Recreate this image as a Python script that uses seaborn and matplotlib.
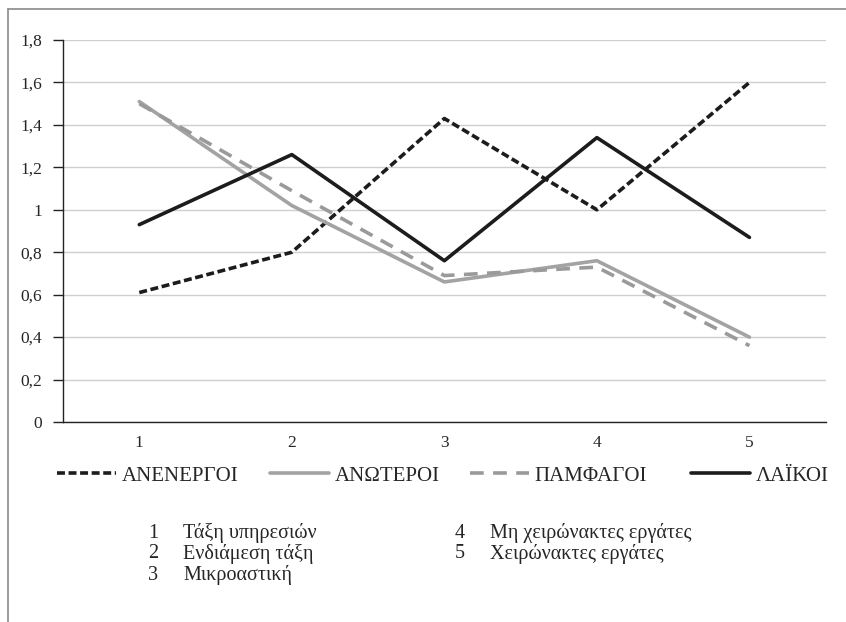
import numpy as np
import pandas as pd
import seaborn as sns
import matplotlib.pyplot as plt
from matplotlib.lines import Line2D

categories = ["1", "2", "3", "4", "5"]
anenergoi = [0.61, 0.80, 1.43, 1.00, 1.60]
anoteroi = [1.51, 1.02, 0.66, 0.76, 0.40]
pamfagoi = [1.50, 1.09, 0.69, 0.73, 0.36]
laikoi = [0.93, 1.26, 0.76, 1.34, 0.87]
series_names = ["ΑΝΕΝΕΡΓΟΙ", "ΑΝΩΤΕΡΟΙ", "ΠΑΜΦΑΓΟΙ", "ΛΑΪΚΟΙ"]
class_notes = ["Τάξη υπηρεσιών", "Ενδιάμεση τάξη", "Μικροαστική",
               "Μη χειρώνακτες εργάτες", "Χειρώνακτες εργάτες"]
yticks = [0, 0.2, 0.4, 0.6, 0.8, 1, 1.2, 1.4, 1.6, 1.8]

df = pd.DataFrame({
    "cat": categories * 4,
    "value": anenergoi + anoteroi + pamfagoi + laikoi,
    "group": np.repeat(series_names, len(categories)),
})

sns.set_style("white")
plt.rcParams['font.family'] = ['Liberation Serif', 'DejaVu Serif']

fig = plt.figure(figsize=(8.46, 6.22), dpi=100)
ax = fig.add_axes([0.0745, 0.3215, 0.9015, 0.6142])

colors = {"ΑΝΕΝΕΡΓΟΙ": "#1c1c1c", "ΑΝΩΤΕΡΟΙ": "#a3a3a3",
          "ΠΑΜΦΑΓΟΙ": "#9a9a9a", "ΛΑΪΚΟΙ": "#1c1c1c"}
dashes = {"ΑΝΕΝΕΡΓΟΙ": (2.2, 1.0), "ΑΝΩΤΕΡΟΙ": "",
          "ΠΑΜΦΑΓΟΙ": (3.8, 2.6), "ΛΑΪΚΟΙ": ""}

sns.lineplot(data=df, x="cat", y="value", hue="group", style="group",
             palette=colors, dashes=dashes, hue_order=series_names,
             style_order=series_names, linewidth=2.6, legend=False, ax=ax,
             sort=False)

ax.set_xlim(-0.5, 4.5)
ax.set_ylim(0, 1.8)
ax.set_yticks(yticks)
ax.set_yticklabels([f"{v:g}".replace(".", ",") for v in yticks], fontsize=12.5)
ax.set_xticks(range(len(categories)))
ax.set_xticklabels(categories, fontsize=12.5)
ax.set_xticks(np.arange(-0.5, 5, 1), minor=True)
ax.tick_params(axis="x", which="major", length=0, pad=9)
ax.tick_params(axis="x", which="minor", length=5, width=1, color="#222", direction="out")
ax.tick_params(axis="y", length=7, width=1, color="#222", direction="out", left=True, pad=8)
ax.yaxis.grid(True, color="#cfcfcf", linewidth=1)
ax.set_axisbelow(True)
for s in ["top", "right"]:
    ax.spines[s].set_visible(False)
for s in ["left", "bottom"]:
    ax.spines[s].set_color("#222")
    ax.spines[s].set_linewidth(1)
ax.set_xlabel("")
ax.set_ylabel("")

# legend row: one small legend per series so each entry sits where it does in the original
legend_x = [57, 270, 470, 691]
for name, x0 in zip(series_names, legend_x):
    h = Line2D([], [], color=colors[name], linewidth=2.6,
               dashes=dashes[name] if dashes[name] else (None, None))
    fig.legend([h], [name], loc="center left", bbox_to_anchor=(x0 / 846, 1 - 476 / 622),
               frameon=False, fontsize=15, handlelength=2.85, handletextpad=0.25,
               borderpad=0, borderaxespad=0)

# class key below the legend
for i, note in enumerate(class_notes):
    col, row = divmod(i, 3)
    xnum = 148 + col * 307
    y = 533 + row * 21
    fig.text(xnum / 846, 1 - y / 622, str(i + 1), fontsize=14.5, va="center")
    fig.text((xnum + 35) / 846, 1 - y / 622, note, fontsize=14.5, va="center")

# outer frame (left and top edges)
fig.add_artist(Line2D([7.5 / 846, 7.5 / 846], [0, 1 - 8.5 / 622],
                      transform=fig.transFigure, color="#8a8a8a", linewidth=1.2))
fig.add_artist(Line2D([7.5 / 846, 1], [1 - 8.5 / 622, 1 - 8.5 / 622],
                      transform=fig.transFigure, color="#8a8a8a", linewidth=1.2))

fig.savefig("out.png", dpi=100)
